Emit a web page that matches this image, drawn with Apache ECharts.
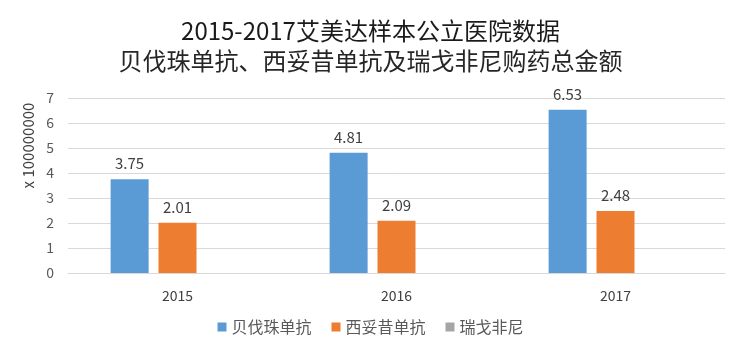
<!DOCTYPE html>
<html><head><meta charset="utf-8">
<script src="https://cdn.jsdelivr.net/npm/echarts@6/dist/echarts.min.js"></script>
<style>html,body{margin:0;padding:0;background:#fff}#c{width:741px;height:354px}</style>
</head><body><div id="c"></div>
<script>
const categories = ['2015', '2016', '2017'];
const seriesNames = ['贝伐珠单抗', '西妥昔单抗', '瑞戈非尼'];
const bevacizumab = [3.75, 4.81, 6.53];
const cetuximab = [2.01, 2.09, 2.48];
const regorafenib = [null, null, null];
const yTicks = [0, 1, 2, 3, 4, 5, 6, 7];
const colors = ['#5B9BD5', '#ED7D31', '#A5A5A5'];

const chart = echarts.init(document.getElementById('c'));
const font = '"Noto Sans CJK SC", "Noto Sans", sans-serif';
const lbl = {show: true, position: 'top', distance: 8, color: '#404040', fontSize: 15, fontFamily: font};
chart.setOption({
  animation: false,
  title: [
    {text: '2015-2017艾美达样本公立医院数据', left: 'center', top: 14,
     textStyle: {fontSize: 24, fontWeight: 'normal', color: '#1a1a1a', fontFamily: font}},
    {text: '贝伐珠单抗、西妥昔单抗及瑞戈非尼购药总金额', left: 'center', top: 44,
     textStyle: {fontSize: 24, fontWeight: 'normal', color: '#262626', fontFamily: font}}
  ],
  legend: {
    bottom: 14, left: 'center', itemWidth: 9, itemHeight: 9, itemGap: 20,
    icon: 'rect', data: seriesNames,
    textStyle: {fontSize: 16, color: '#595959', fontFamily: font}
  },
  grid: {left: 68, right: 16, top: 98, bottom: 81},
  xAxis: {
    type: 'category', data: categories,
    axisLine: {lineStyle: {color: '#D9D9D9'}}, axisTick: {show: false},
    axisLabel: {color: '#404040', fontSize: 14, margin: 16, fontFamily: font}
  },
  yAxis: {
    type: 'value', min: 0, max: 7, interval: 1,
    name: 'x 100000000', nameLocation: 'middle', nameGap: 32, nameRotate: 90,
    nameTextStyle: {fontSize: 15, color: '#404040', fontFamily: font, padding: [0,0,0,80]},
    axisLine: {show: false}, axisTick: {show: false},
    axisLabel: {color: '#595959', fontSize: 14, margin: 14, fontFamily: font,
      formatter: v => yTicks.includes(v) ? String(v) : ''},
    splitLine: {lineStyle: {color: '#D9D9D9'}}
  },
  series: [
    {name: seriesNames[0], type: 'bar', data: bevacizumab, barWidth: 38, barGap: '26%', itemStyle: {color: colors[0]}, label: lbl},
    {name: seriesNames[1], type: 'bar', data: cetuximab, barWidth: 38, barGap: '26%', itemStyle: {color: colors[1]}, label: lbl},
    {name: seriesNames[2], type: 'bar', data: regorafenib, barWidth: 38, barGap: '26%', itemStyle: {color: colors[2]}, label: lbl}
  ]
});
</script></body></html>
